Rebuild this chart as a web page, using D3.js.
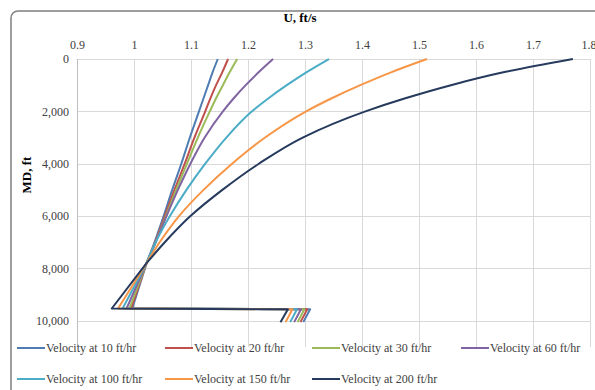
<!DOCTYPE html>
<html>
<head>
<meta charset="utf-8">
<script src="https://cdn.jsdelivr.net/npm/d3@7"></script>
<style>
  html, body { margin: 0; padding: 0; background: #fff; }
  svg { display: block; }
  text { font-family: "Liberation Serif", "Times New Roman", serif; fill: #404040; }
</style>
</head>
<body>
<svg id="chart" width="595" height="390"></svg>
<script>
// Measured depth stations (ft)
const mdStations = [0, 500, 1000, 1500, 2000, 3000, 4000, 5000, 6000, 7000, 7800, 9530, 9560, 10050];

// Annular velocity U (ft/s) at each station, one list per rate of penetration
const vel10  = [1.147, 1.138, 1.130, 1.122, 1.114, 1.098, 1.083, 1.067, 1.052, 1.036, 1.022, 0.997, 1.309, 1.297];
const vel20  = [1.165, 1.155, 1.144, 1.134, 1.125, 1.106, 1.089, 1.071, 1.054, 1.037, 1.022, 0.995, 1.304, 1.292];
const vel30  = [1.181, 1.168, 1.156, 1.144, 1.133, 1.112, 1.093, 1.074, 1.056, 1.038, 1.022, 0.992, 1.299, 1.287];
const vel60  = [1.244, 1.219, 1.196, 1.175, 1.156, 1.124, 1.099, 1.077, 1.057, 1.038, 1.022, 0.987, 1.293, 1.281];
const vel100 = [1.342, 1.303, 1.268, 1.236, 1.207, 1.162, 1.125, 1.092, 1.063, 1.038, 1.022, 0.980, 1.286, 1.274];
const vel150 = [1.514, 1.452, 1.397, 1.347, 1.302, 1.230, 1.172, 1.122, 1.079, 1.045, 1.022, 0.972, 1.278, 1.266];
const vel200 = [1.770, 1.650, 1.556, 1.476, 1.406, 1.296, 1.219, 1.155, 1.099, 1.054, 1.022, 0.961, 1.270, 1.257];

const seriesNames = ["Velocity at 10 ft/hr", "Velocity at 20 ft/hr", "Velocity at 30 ft/hr",
  "Velocity at 60 ft/hr", "Velocity at 100 ft/hr", "Velocity at 150 ft/hr", "Velocity at 200 ft/hr"];
const seriesValues = [vel10, vel20, vel30, vel60, vel100, vel150, vel200];
const seriesColors = ["#4f7db3", "#c0504d", "#9bbb59", "#8064a2", "#4bacc6", "#f79646", "#253a5c"];

const xTicks = [0.9, 1.0, 1.1, 1.2, 1.3, 1.4, 1.5, 1.6, 1.7, 1.8];
const yTicks = [0, 2000, 4000, 6000, 8000, 10000];

// index where the smooth upper profile ends and the straight lower section starts
const kneeIndex = mdStations.indexOf(7800);

const svg = d3.select("#chart");

// chart frame
svg.append("rect")
  .attr("x", 11).attr("y", 11).attr("width", 620).attr("height", 420)
  .attr("rx", 7).attr("ry", 7)
  .attr("fill", "#fff").attr("stroke", "#7f7f7f").attr("stroke-width", 1.5);

const x = d3.scaleLinear().domain([0.9, 1.8]).range([77, 590]);
const y = d3.scaleLinear().domain([0, 11000]).range([59, 347]);

// gridlines
const grid = svg.append("g").attr("stroke", "#d9d9d9").attr("stroke-width", 1);
grid.selectAll("line.v").data(xTicks).join("line")
  .attr("x1", d => Math.round(x(d)) + 0.5).attr("x2", d => Math.round(x(d)) + 0.5)
  .attr("y1", y(0)).attr("y2", y(11000));
grid.selectAll("line.h").data(yTicks).join("line")
  .attr("x1", x(0.9)).attr("x2", x(1.8))
  .attr("y1", d => Math.round(y(d)) + 0.5).attr("y2", d => Math.round(y(d)) + 0.5);

// left axis line
svg.append("line")
  .attr("x1", Math.round(x(0.9)) + 0.5).attr("x2", Math.round(x(0.9)) + 0.5)
  .attr("y1", y(0)).attr("y2", y(11000))
  .attr("stroke", "#bfbfbf").attr("stroke-width", 1);

// top axis
const xAxis = svg.append("g")
  .attr("transform", `translate(0,${y(0) - 10})`)
  .call(d3.axisTop(x).tickValues(xTicks).tickSize(0).tickPadding(0)
    .tickFormat(d => String(+d.toFixed(1))));
xAxis.select(".domain").remove();
xAxis.selectAll("text").attr("font-size", 12).style("font-family", "Liberation Serif").attr("fill", "#404040");
// keep the last label inside the page edge
xAxis.selectAll("text").filter(d => d === 1.8).attr("text-anchor", "end").attr("dx", 6);

// left axis
const yAxis = svg.append("g")
  .attr("transform", `translate(${x(0.9) - 8},0)`)
  .call(d3.axisLeft(y).tickValues(yTicks).tickSize(0).tickPadding(0)
    .tickFormat(d3.format(",")));
yAxis.select(".domain").remove();
yAxis.selectAll("text").attr("font-size", 12).style("font-family", "Liberation Serif").attr("fill", "#404040");

// axis titles
svg.append("text")
  .attr("x", 300).attr("y", 22).attr("text-anchor", "middle")
  .attr("font-size", 13).attr("font-weight", "bold")
  .style("fill", "#000")
  .text("U, ft/s");
svg.append("text")
  .attr("transform", "translate(31,175) rotate(-90)")
  .attr("text-anchor", "middle")
  .attr("font-size", 13).attr("font-weight", "bold")
  .style("fill", "#000")
  .text("MD, ft");

// velocity profiles: smooth upper section, straight lower section with the step
const smoothLine = d3.line().x(d => x(d[1])).y(d => y(d[0])).curve(d3.curveMonotoneY);
const straightLine = d3.line().x(d => x(d[1])).y(d => y(d[0]));

const plot = svg.append("g");
seriesValues.forEach((vals, i) => {
  const pts = mdStations.map((md, k) => [md, vals[k]]);
  plot.append("path")
    .attr("d", smoothLine(pts.slice(0, kneeIndex + 1)))
    .attr("fill", "none").attr("stroke", seriesColors[i]).attr("stroke-width", 2)
    .attr("stroke-linejoin", "round");
  plot.append("path")
    .attr("d", straightLine(pts.slice(kneeIndex)))
    .attr("fill", "none").attr("stroke", seriesColors[i]).attr("stroke-width", 2)
    .attr("stroke-linejoin", "round");
});

// legend
const legendPos = [[17, 348], [165, 348], [312, 348], [461, 348], [17, 379], [165, 379], [312, 379]];
const legend = svg.append("g");
seriesNames.forEach((name, i) => {
  const [lx, ly] = legendPos[i];
  legend.append("line")
    .attr("x1", lx).attr("x2", lx + 28).attr("y1", ly).attr("y2", ly)
    .attr("stroke", seriesColors[i]).attr("stroke-width", 2);
  legend.append("text")
    .attr("x", lx + 29).attr("y", ly + 4)
    .attr("font-size", 12)
    .text(name);
});
</script>
</body>
</html>
